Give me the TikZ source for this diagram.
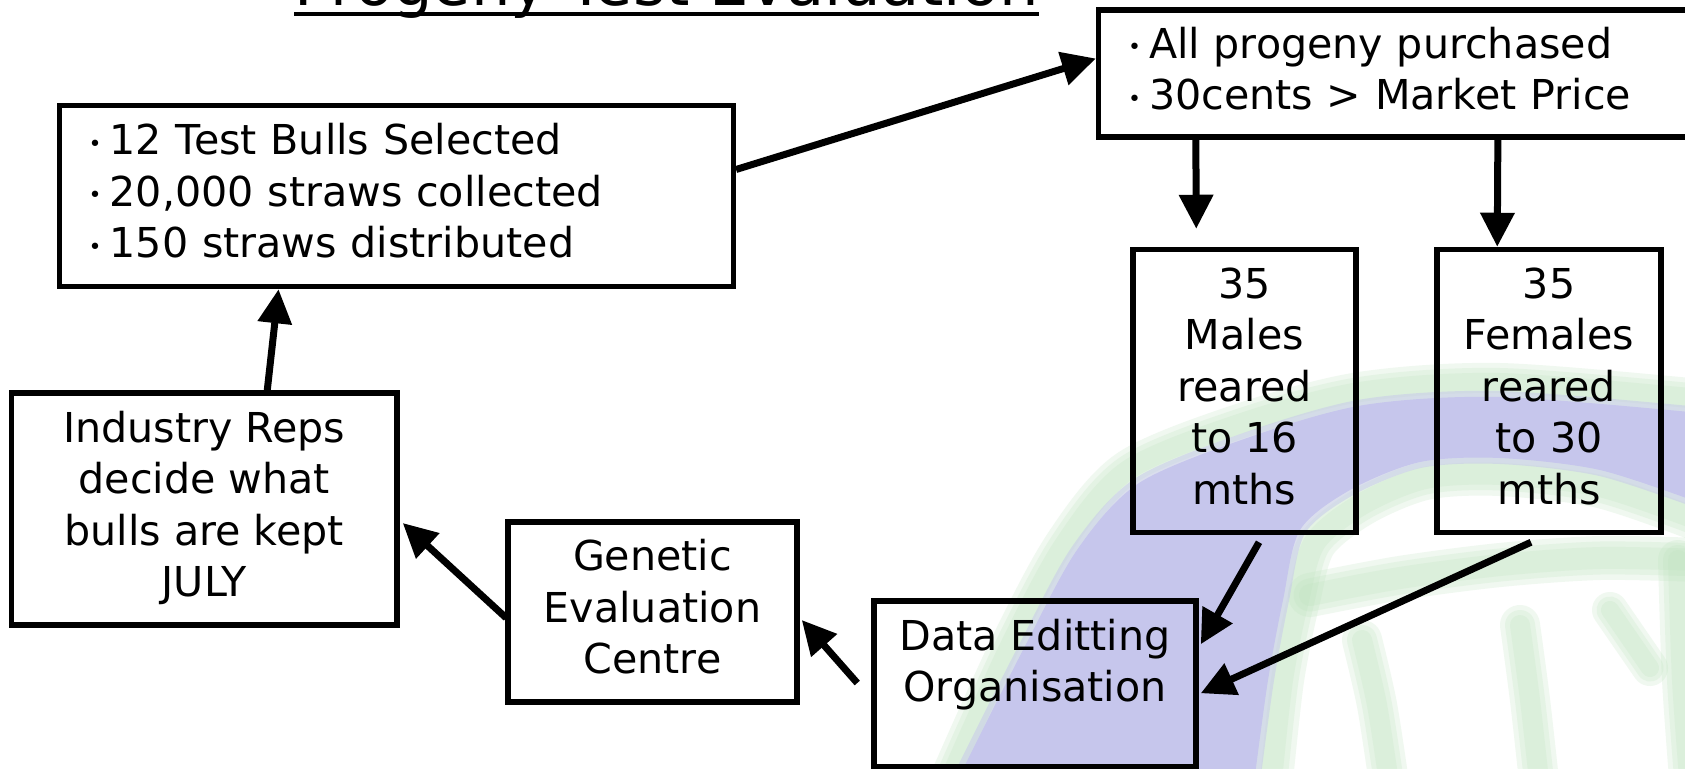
\documentclass[tikz,border=0pt]{standalone}
\usepackage{fontspec}
\setmainfont{DejaVu Sans}
\usetikzlibrary{arrows.meta,calc}
\definecolor{bandpurple}{RGB}{198,198,236}
\definecolor{bandgreen}{RGB}{188,226,188}
\newcommand{\bul}{\makebox[21pt][l]{\raisebox{3.5pt}{\fontsize{22}{22}\selectfont •}}}
\newcommand{\fuzz}[2]{\foreach \w in {1,0.75,0.5}{\draw[bandgreen, line width=\w*#1 pt, opacity=0.22, line cap=round, line join=round] plot[smooth] coordinates {#2};}}
\tikzset{
  box/.style={draw=black, line width=5.5pt, inner sep=0pt, font=\fontsize{41.2}{51.5}\selectfont},
  ctr/.style={align=center},
  txt/.style={inner sep=0pt, align=center, font=\fontsize{41.2}{51.5}\selectfont},
  arr/.style={line width=7pt, -{Triangle[length=34pt,width=33pt]}},
  soft/.style={bandpurple, line width=12pt, opacity=0.5},
}
\begin{document}
\begin{tikzpicture}[x=1pt,y=-1pt]
\useasboundingbox (0,0) rectangle (1685,768);
\clip (0,0) rectangle (1685,768);
\fill[white] (0,0) rectangle (1685,768);
% watermark background
\fuzz{40}{(945,790) (1008,650) (1064,545) (1128,470) (1242,423) (1360,392) (1500,383) (1700,399)}
\fuzz{44}{(1700,520) (1600,486) (1500,474) (1425,478) (1362,504) (1315,542) (1298,600) (1282,680) (1270,790)}
\fuzz{44}{(1310,595) (1400,578) (1500,565) (1600,558) (1700,560)}
\fuzz{40}{(1362,640) (1377,705) (1390,790)}
\fuzz{40}{(1520,625) (1530,700) (1540,790)}
\fuzz{36}{(1610,610) (1650,668)}
\fuzz{40}{(1678,560) (1682,680) (1690,790)}
\fill[bandpurple] plot[smooth] coordinates {(960,775) (1023,650) (1077,550) (1139,483) (1250,437) (1364,405) (1500,397) (1700,413)} -- plot[smooth] coordinates {(1700,503) (1600,470) (1500,458) (1420,462) (1350,490) (1300,530) (1283,600) (1268,680) (1255,775)} -- cycle;
\draw[soft] plot[smooth] coordinates {(960,775) (1023,650) (1077,550) (1139,483) (1250,437) (1364,405) (1500,397) (1700,413)};
\draw[soft] plot[smooth] coordinates {(1700,503) (1600,470) (1500,458) (1420,462) (1350,490) (1300,530) (1283,600) (1268,680) (1255,775)};
% title
\node[inner sep=0pt, anchor=base, font=\fontsize{62.3}{62.3}\selectfont] (title) at (666.5,6) {Progeny Test Evaluation};
\draw[line width=4pt] ($(title.base west)+(0,8)$) -- ($(title.base east)+(0,8)$);
% boxes
\node[box, minimum width=674pt, minimum height=181pt, text width=615.2pt, inner xsep=29.4pt, align=left] (bulls) at (396.3,196)
  {\strut\bul 12 Test Bulls Selected\\\strut\bul 20,000 straws collected\\\strut\bul 150 straws distributed};
\node[box, minimum width=621.4pt, minimum height=127pt, text width=562.6pt, inner xsep=29.4pt, align=left] (prog) at (1409.3,73.5)
  {\strut\bul All progeny purchased\\\strut\bul 30cents > Market Price};
\node[box, ctr, minimum width=223pt, minimum height=283pt] (males) at (1244.5,391)
  {\strut 35\\\strut Males\\\strut reared\\\strut to 16\\\strut mths};
\node[box, ctr, minimum width=224pt, minimum height=283pt] (females) at (1549,391)
  {\strut 35\\\strut Females\\\strut reared\\\strut to 30\\\strut mths};
\node[box, minimum width=322pt, minimum height=166pt] (data) at (1035,684) {};
\node[txt] (datatext) at (1035,665.5) {\strut Data Editting\\\strut Organisation};
\node[box, ctr, minimum width=289pt, minimum height=180pt] (genetic) at (652.5,612)
  {\strut Genetic\\\strut Evaluation\\\strut Centre};
\node[box, ctr, minimum width=385.5pt, minimum height=232pt] (industry) at (204.25,509)
  {\strut Industry Reps\\\strut decide what\\\strut bulls are kept\\\strut JULY};
% connectors
\draw[arr] ($(bulls.east)+(0,-26.5)$) -- ($(prog.west)+(0,-15)$);
\draw[arr] ($(prog.south west)+(100,0)$) -- ($(males.north west)+(66,-18)$);
\draw[arr] ($(prog.south west)+(402,0)$) -- ($(females.north west)+(63,0)$);
\draw[arr] ($(males.south)+(14.5,7)$) -- ($(data.north east)+(2,46)$);
\draw[arr] ($(females.south)+(-18,7)$) -- ($(data.north east)+(2,95)$);
\draw[arr] ($(data.west)+(-14,-1)$) -- ($(genetic.east)+(2,8)$);
\draw[arr] ($(genetic.west)+(1,6)$) -- ($(industry.east)+(3,14)$);
\draw[arr] ($(industry.north)+(63,0)$) -- ($(bulls.south west)+(222,0)$);
\end{tikzpicture}
\end{document}
